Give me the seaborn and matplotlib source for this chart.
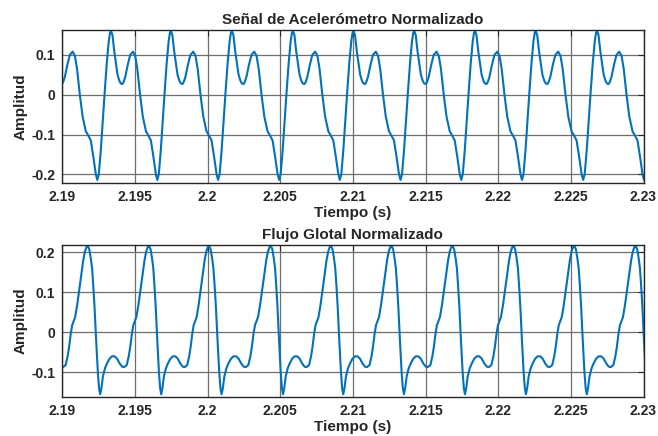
import numpy as np
import pandas as pd
import matplotlib
matplotlib.use("Agg")
import matplotlib.pyplot as plt
import seaborn as sns

# ---- data ----
# times of the tall peak of each cycle (s)
acc_peak_times = [2.18918, 2.19335, 2.19747, 2.20167, 2.20587, 2.21004,
                  2.21422, 2.21840, 2.22258, 2.22680, 2.23098]
# one cycle of the accelerometer signal: phase (fraction of cycle) and amplitude
acc_phase = [0.000, 0.025, 0.054, 0.082, 0.110, 0.140, 0.165, 0.193, 0.214, 0.239,
             0.280, 0.321, 0.367, 0.404, 0.440, 0.486, 0.532, 0.585, 0.631, 0.667,
             0.708, 0.750, 0.774, 0.799, 0.832, 0.865, 0.898, 0.931, 0.964, 0.984]
acc_value = [0.160, 0.150, 0.110, 0.080, 0.050, 0.035, 0.028, 0.027, 0.033, 0.045,
             0.075, 0.100, 0.108, 0.098, 0.065, 0.000, -0.055, -0.092, -0.104, -0.115,
             -0.155, -0.200, -0.214, -0.200, -0.140, -0.065, 0.010, 0.080, 0.135, 0.155]

flow_peak_times = [2.18757, 2.19175, 2.19597, 2.20010, 2.20435, 2.20849,
                   2.21266, 2.21686, 2.22106, 2.22524, 2.22946, 2.23364]
flow_phase = [0.000, 0.025, 0.050, 0.071, 0.091, 0.111, 0.137, 0.165, 0.185, 0.203,
              0.223, 0.248, 0.281, 0.314, 0.355, 0.397, 0.438, 0.479, 0.521, 0.562,
              0.595, 0.636, 0.669, 0.694, 0.719, 0.744, 0.769, 0.793, 0.826, 0.860,
              0.898, 0.926, 0.954, 0.979]
flow_value = [0.216, 0.208, 0.185, 0.160, 0.115, 0.064, -0.019, -0.100, -0.140, -0.155,
              -0.140, -0.110, -0.090, -0.078, -0.066, -0.060, -0.060, -0.066, -0.078, -0.086,
              -0.087, -0.082, -0.060, -0.036, -0.005, 0.018, 0.028, 0.038, 0.068, 0.105,
              0.148, 0.180, 0.202, 0.213]

x_ticks = [2.19, 2.195, 2.2, 2.205, 2.21, 2.215, 2.22, 2.225, 2.23]
x_tick_labels = ["2.19", "2.195", "2.2", "2.205", "2.21", "2.215", "2.22", "2.225", "2.23"]
acc_yticks = [-0.2, -0.1, 0, 0.1]
acc_ytick_labels = ["-0.2", "-0.1", "0", "0.1"]
flow_yticks = [-0.1, 0, 0.1, 0.2]
flow_ytick_labels = ["-0.1", "0", "0.1", "0.2"]

titles = ["Señal de Acelerómetro Normalizado", "Flujo Glotal Normalizado"]


def build(peaks, phase, value):
    t, v = [], []
    for a, b in zip(peaks[:-1], peaks[1:]):
        for p, y in zip(phase, value):
            t.append(a + p * (b - a))
            v.append(y)
    t.append(peaks[-1]); v.append(value[0])
    return pd.DataFrame({"t": t, "v": v})


acc_df = build(acc_peak_times, acc_phase, acc_value)
flow_df = build(flow_peak_times, flow_phase, flow_value)

sns.set_style("white")
plt.rcParams["font.family"] = ["Liberation Sans", "DejaVu Sans"]
plt.rcParams["font.weight"] = "bold"

W, H = 658, 436
fig = plt.figure(figsize=(W / 100, H / 100), dpi=100)
ax1 = fig.add_axes([62.3 / W, 1 - 183.3 / H, (643.5 - 62.3) / W, (183.3 - 30) / H])
ax2 = fig.add_axes([62.3 / W, 1 - 397.3 / H, (643.5 - 62.3) / W, (397.3 - 244.7) / H])

line_color = "#0072BD"
specs = [
    (ax1, acc_df, (-0.2225, 0.1625), acc_yticks, acc_ytick_labels, titles[0]),
    (ax2, flow_df, (-0.1625, 0.219), flow_yticks, flow_ytick_labels, titles[1]),
]
for ax, df, ylim, yt, ytl, title in specs:
    sns.lineplot(data=df, x="t", y="v", ax=ax, color=line_color, linewidth=1.5,
                 estimator=None, sort=False)
    ax.set_xlim(2.19, 2.23)
    ax.set_ylim(*ylim)
    ax.set_xticks(x_ticks)
    ax.set_xticklabels(x_tick_labels, fontsize=10, fontweight="bold")
    ax.set_yticks(yt)
    ax.set_yticklabels(ytl, fontsize=10, fontweight="bold")
    ax.grid(True, color="#6e6e6e", linewidth=0.9)
    ax.set_axisbelow(True)
    ax.tick_params(direction="in", length=4, width=0.8, color="#262626",
                   top=True, right=True, pad=5, labelcolor="#262626")
    for s in ax.spines.values():
        s.set_color("#262626")
        s.set_linewidth(1.0)
        s.set_visible(True)
    ax.set_xlabel("Tiempo (s)", fontsize=11, fontweight="bold", labelpad=1, color="#262626")
    ax.set_ylabel("Amplitud", fontsize=11, fontweight="bold", labelpad=3, color="#262626")
    ax.set_title(title, fontsize=11, fontweight="bold", pad=4, color="#262626")

fig.savefig("out.png", dpi=100)
